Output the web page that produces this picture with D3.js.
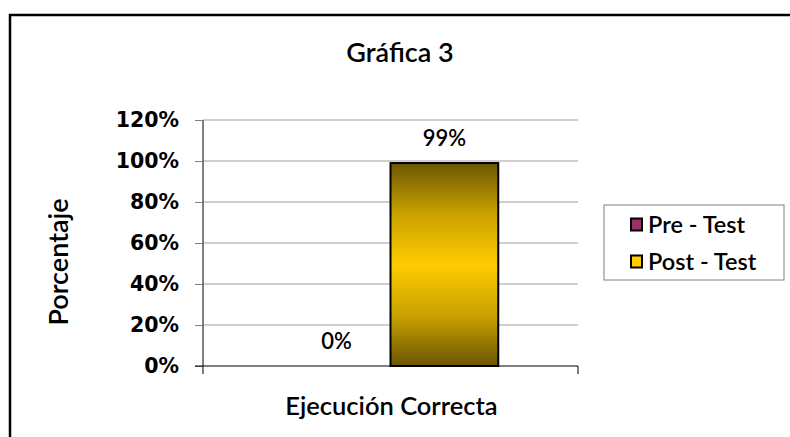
<!DOCTYPE html>
<html>
<head>
<meta charset="utf-8">
<script src="https://cdn.jsdelivr.net/npm/d3@7"></script>
<style>
  body { margin: 0; background: #fff; }
  text { font-family: Lato, "Open Sans", sans-serif; fill: #000; }
</style>
</head>
<body>
<div id="chart"></div>
<script>
// data
const categories = ["Ejecución Correcta"];
const seriesNames = ["Pre - Test", "Post - Test"];
const seriesValues = [[0], [0.99]];
const yTicks = [0, 0.2, 0.4, 0.6, 0.8, 1.0, 1.2];

const W = 790, H = 437;
const margin = {top: 120, right: 212, bottom: 71, left: 203};

const svg = d3.select("#chart").append("svg")
  .attr("width", W)
  .attr("height", H);

// outer frame, runs off the right/bottom edge
svg.append("rect")
  .attr("x", 10).attr("y", 15)
  .attr("width", 800).attr("height", 450)
  .attr("fill", "#fff")
  .attr("stroke", "#000")
  .attr("stroke-width", 2.5);

const defs = svg.append("defs");
const grad = defs.append("linearGradient")
  .attr("id", "goldGrad")
  .attr("x1", 0).attr("y1", 0).attr("x2", 0).attr("y2", 1);
grad.append("stop").attr("offset", "0%").attr("stop-color", "#6b5600");
grad.append("stop").attr("offset", "25%").attr("stop-color", "#c9a100");
grad.append("stop").attr("offset", "50%").attr("stop-color", "#ffcc00");
grad.append("stop").attr("offset", "75%").attr("stop-color", "#c9a100");
grad.append("stop").attr("offset", "100%").attr("stop-color", "#6b5600");

const colors = ["#993366", "url(#goldGrad)"];
const legendColors = ["#993366", "#ffcc00"];

const x0 = d3.scaleBand()
  .domain(categories)
  .range([margin.left, W - margin.right]);

const x1 = d3.scaleBand()
  .domain(seriesNames)
  .range([0, x0.bandwidth()])
  .paddingInner(0)
  .paddingOuter(0.74);

const y = d3.scaleLinear()
  .domain([0, 1.2])
  .range([H - margin.bottom, margin.top]);

// gridlines
svg.append("g")
  .selectAll("line")
  .data(yTicks.filter(d => d > 0))
  .join("line")
    .attr("x1", margin.left)
    .attr("x2", W - margin.right)
    .attr("y1", d => y(d))
    .attr("y2", d => y(d))
    .attr("stroke", "#a0a0a0")
    .attr("stroke-width", 1.2);

// y axis
const yAxis = d3.axisLeft(y)
  .tickValues(yTicks)
  .tickFormat(d3.format(".0%"))
  .tickSize(8)
  .tickPadding(16);
const yAxisG = svg.append("g")
  .attr("transform", "translate(" + margin.left + ",0)")
  .call(yAxis);
yAxisG.select(".domain").attr("stroke", "#000").attr("d", "M0," + y(1.2) + "V" + (y(0) + 8));
yAxisG.selectAll(".tick line").attr("stroke", "#808080");
yAxisG.selectAll(".tick text")
  .style("font-family", "'DejaVu Sans', sans-serif")
  .style("font-size", "20.5px")
  .style("font-weight", "bold")
  .attr("fill", "#000");

// x axis baseline
const xAxisG = svg.append("g")
  .attr("transform", "translate(0," + y(0) + ")")
  .call(d3.axisBottom(x0).tickSize(0).tickFormat(""));
xAxisG.select(".domain").attr("stroke", "#000")
  .attr("d", "M" + (margin.left - 8) + ",0H" + (W - margin.right) + "V8");

// bars
const barData = seriesNames.map((s, i) => ({series: s, cat: categories[0], value: seriesValues[i][0], i: i}));

svg.append("g")
  .selectAll("rect")
  .data(barData.filter(d => d.value > 0))
  .join("rect")
    .attr("x", d => x0(d.cat) + x1(d.series))
    .attr("y", d => y(d.value))
    .attr("width", x1.bandwidth())
    .attr("height", d => y(0) - y(d.value))
    .attr("fill", d => colors[d.i])
    .attr("stroke", "#000")
    .attr("stroke-width", 2);

// value labels
svg.append("g")
  .selectAll("text")
  .data(barData)
  .join("text")
    .attr("x", d => x0(d.cat) + x1(d.series) + x1.bandwidth() / 2)
    .attr("y", d => y(d.value) - 17)
    .attr("text-anchor", "middle")
    .style("font-size", "22px")
    .style("font-weight", "600")
    .text(d => d3.format(".0%")(d.value));

// title
svg.append("text")
  .attr("x", 400)
  .attr("y", 62)
  .attr("text-anchor", "middle")
  .style("font-size", "27px")
  .style("font-weight", "600")
  .text("Gráfica 3");

// axis titles
svg.append("text")
  .attr("transform", "translate(68," + 262 + ") rotate(-90)")
  .attr("text-anchor", "middle")
  .style("font-size", "27px")
  .style("font-weight", "600")
  .text("Porcentaje");

svg.append("text")
  .attr("x", x0(categories[0]) + x0.bandwidth() / 2 + 1)
  .attr("y", 415)
  .attr("text-anchor", "middle")
  .style("font-size", "25.5px")
  .style("font-weight", "600")
  .text(categories[0]);

// legend
const legend = svg.append("g");
legend.append("rect")
  .attr("x", 604).attr("y", 205)
  .attr("width", 180).attr("height", 75)
  .attr("fill", "#fff")
  .attr("stroke", "#808080")
  .attr("stroke-width", 1);

const items = legend.selectAll(".legend-item")
  .data(seriesNames)
  .join("g")
    .attr("class", "legend-item")
    .attr("transform", (d, i) => "translate(631," + (224.5 + i * 37) + ")");

items.append("rect")
  .attr("x", 0).attr("y", -6)
  .attr("width", 11).attr("height", 12)
  .attr("fill", (d, i) => legendColors[i])
  .attr("stroke", "#000")
  .attr("stroke-width", 2);

items.append("text")
  .attr("x", 17)
  .attr("y", 8.5)
  .style("font-size", "23.5px")
  .style("font-weight", "600")
  .text(d => d);
</script>
</body>
</html>
